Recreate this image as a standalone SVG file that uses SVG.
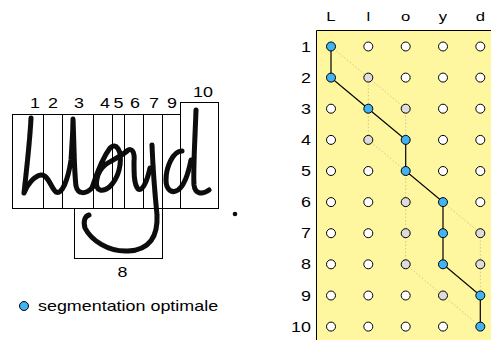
<svg xmlns="http://www.w3.org/2000/svg" width="491" height="340" viewBox="0 0 491 340">
  <style>
    .t { font-family: "Liberation Sans", Arial, sans-serif; font-size: 14px; fill: #000; }
    .c { font-size: 13px; }
    .m { text-anchor: middle; }
    .e { text-anchor: end; }
    .box { fill: none; stroke: #000; stroke-width: 1; }
    .ink { fill: none; stroke: #0a0a0a; stroke-width: 5; stroke-linecap: round; stroke-linejoin: round; }
    .n { stroke: #000; stroke-width: 1; }
    .b { fill: #40b3f5; }
    .g { fill: #dcdcdc; }
    .w { fill: #fff; }
    .path { fill: none; stroke: #000; stroke-width: 1.2; }
    .alt { fill: none; stroke: #cfc68c; stroke-width: 1; stroke-dasharray: 1.5 2; }
  </style>
  <defs>
    <filter id="soft" x="-10%" y="-10%" width="120%" height="120%">
      <feGaussianBlur stdDeviation="0.6"/>
    </filter>
  </defs>

  <rect width="491" height="340" fill="#fff"/>

  <!-- handwritten word, segmented into boxes -->
  <g id="handwriting" filter="url(#soft)">
    <path class="ink" d="M31,118 C30,140 27,166 24,193 C27,185 34,176 41,175 C48,174 51,188 56,192 C62,195 68,180 71,160 C72,145 73,130 73,119 C74,140 74,170 76,186 C78,195 86,194 92,188"/>
    <path class="ink" d="M92,188 C96,176 101,160 110,148 C116,142 122,150 120,165 C118,180 108,192 100,190 C94,188 96,172 105,165 C112,160 120,157 127,151"/>
    <path class="ink" d="M127,151 C132,147 135,152 134,162 C134,174 134,184 138,189 C142,192 147,182 150,168"/>
    <path class="ink" d="M152,145 C153,170 155,195 157,215 C158,236 150,250 128,251 C108,252 91,240 85,228 C83,221 85,216 89,215"/>
    <path class="ink" d="M182,151 C173,151 166,167 166,180 C166,190 172,194 178,190 C184,186 188,175 191,160"/>
    <path class="ink" d="M196,110 C195,140 193,170 194,185 C195,194 202,195 209,190"/>
    <circle cx="235" cy="214" r="2.3" fill="#111"/>
  </g>

  <g id="segments">
    <rect class="box" x="12.5" y="114.5" width="168" height="94"/>
    <path class="box" d="M43.5,114.5V208.5 M62.5,114.5V208.5 M93.5,114.5V208.5 M112.5,114.5V208.5 M124.5,114.5V208.5 M143.5,114.5V208.5 M162.5,114.5V208.5"/>
    <rect class="box" x="180.5" y="102.5" width="38" height="106"/>
    <rect class="box" x="74.5" y="208.5" width="88" height="50"/>
  </g>

  <g id="segment-labels">
    <text class="t m" transform="translate(35,108) scale(1.28,1)">1</text>
    <text class="t m" transform="translate(53,108) scale(1.28,1)">2</text>
    <text class="t m" transform="translate(79,108) scale(1.28,1)">3</text>
    <text class="t m" transform="translate(105,108) scale(1.28,1)">4</text>
    <text class="t m" transform="translate(118.5,108) scale(1.28,1)">5</text>
    <text class="t m" transform="translate(135,108) scale(1.28,1)">6</text>
    <text class="t m" transform="translate(154,108) scale(1.28,1)">7</text>
    <text class="t m" transform="translate(172,108) scale(1.28,1)">9</text>
    <text class="t m" transform="translate(203,97) scale(1.28,1)">10</text>
    <text class="t m" transform="translate(122.5,277) scale(1.28,1)">8</text>
  </g>

  <!-- legend -->
  <g id="legend">
    <circle class="n b" cx="24" cy="306" r="4.5"/>
    <text class="t" transform="translate(38,311) scale(1.28,1)">segmentation optimale</text>
  </g>

  <!-- alignment grid -->
  <g id="grid-frame">
    <rect x="316" y="31" width="175" height="309" fill="#fff79f"/>
    <path d="M316.5,340V30.5H491" fill="none" stroke="#000" stroke-width="1"/>
  </g>

  <g id="column-labels">
    <text class="t c m" transform="translate(331,21) scale(1.28,1)">L</text>
    <text class="t c m" transform="translate(368.3,21) scale(1.28,1)">l</text>
    <text class="t c m" transform="translate(405.7,21) scale(1.28,1)">o</text>
    <text class="t c m" transform="translate(443,21) scale(1.28,1)">y</text>
    <text class="t c m" transform="translate(480.3,21) scale(1.28,1)">d</text>
  </g>

  <g id="row-labels">
    <text class="t e" transform="translate(311,51.5) scale(1.28,1)">1</text>
    <text class="t e" transform="translate(311,82.6) scale(1.28,1)">2</text>
    <text class="t e" transform="translate(311,113.7) scale(1.28,1)">3</text>
    <text class="t e" transform="translate(311,144.9) scale(1.28,1)">4</text>
    <text class="t e" transform="translate(311,176) scale(1.28,1)">5</text>
    <text class="t e" transform="translate(311,207.1) scale(1.28,1)">6</text>
    <text class="t e" transform="translate(311,238.2) scale(1.28,1)">7</text>
    <text class="t e" transform="translate(311,269.3) scale(1.28,1)">8</text>
    <text class="t e" transform="translate(311,300.5) scale(1.28,1)">9</text>
    <text class="t e" transform="translate(311,331.6) scale(1.28,1)">10</text>
  </g>

  <g id="connectors">
    <g id="alternatives">
      <line class="alt" x1="331" y1="46.5" x2="405.7" y2="108.7"/>
      <line class="alt" x1="368.3" y1="77.6" x2="368.3" y2="139.9"/>
      <line class="alt" x1="405.7" y1="108.7" x2="405.7" y2="139.9"/>
      <line class="alt" x1="368.3" y1="139.9" x2="405.7" y2="171"/>
      <line class="alt" x1="405.7" y1="171" x2="405.7" y2="264.3"/>
      <line class="alt" x1="405.7" y1="264.3" x2="480.3" y2="326.6"/>
      <line class="alt" x1="443" y1="202.1" x2="480.3" y2="233.2"/>
      <line class="alt" x1="480.3" y1="233.2" x2="480.3" y2="295.5"/>
    </g>
    <polyline id="best-path" class="path" points="331,46.5 331,77.6 368.3,108.7 405.7,139.9 405.7,171 443,202.1 443,233.2 443,264.3 480.3,295.5 480.3,326.6"/>
  </g>

  <g id="nodes">
    <!-- row 1 -->
    <g id="n1-1"><circle class="n b" cx="331" cy="46.5" r="4.5"/></g>
    <g id="n1-2"><circle class="n w" cx="368.3" cy="46.5" r="4.5"/></g>
    <g id="n1-3"><circle class="n w" cx="405.7" cy="46.5" r="4.5"/></g>
    <g id="n1-4"><circle class="n w" cx="443" cy="46.5" r="4.5"/></g>
    <g id="n1-5"><circle class="n w" cx="480.3" cy="46.5" r="4.5"/></g>
    <!-- row 2 -->
    <g id="n2-1"><circle class="n b" cx="331" cy="77.6" r="4.5"/></g>
    <g id="n2-2"><circle class="n g" cx="368.3" cy="77.6" r="4.5"/></g>
    <g id="n2-3"><circle class="n w" cx="405.7" cy="77.6" r="4.5"/></g>
    <g id="n2-4"><circle class="n w" cx="443" cy="77.6" r="4.5"/></g>
    <g id="n2-5"><circle class="n w" cx="480.3" cy="77.6" r="4.5"/></g>
    <!-- row 3 -->
    <g id="n3-1"><circle class="n w" cx="331" cy="108.7" r="4.5"/></g>
    <g id="n3-2"><circle class="n b" cx="368.3" cy="108.7" r="4.5"/></g>
    <g id="n3-3"><circle class="n g" cx="405.7" cy="108.7" r="4.5"/></g>
    <g id="n3-4"><circle class="n w" cx="443" cy="108.7" r="4.5"/></g>
    <g id="n3-5"><circle class="n w" cx="480.3" cy="108.7" r="4.5"/></g>
    <!-- row 4 -->
    <g id="n4-1"><circle class="n w" cx="331" cy="139.9" r="4.5"/></g>
    <g id="n4-2"><circle class="n g" cx="368.3" cy="139.9" r="4.5"/></g>
    <g id="n4-3"><circle class="n b" cx="405.7" cy="139.9" r="4.5"/></g>
    <g id="n4-4"><circle class="n w" cx="443" cy="139.9" r="4.5"/></g>
    <g id="n4-5"><circle class="n w" cx="480.3" cy="139.9" r="4.5"/></g>
    <!-- row 5 -->
    <g id="n5-1"><circle class="n w" cx="331" cy="171" r="4.5"/></g>
    <g id="n5-2"><circle class="n w" cx="368.3" cy="171" r="4.5"/></g>
    <g id="n5-3"><circle class="n b" cx="405.7" cy="171" r="4.5"/></g>
    <g id="n5-4"><circle class="n w" cx="443" cy="171" r="4.5"/></g>
    <g id="n5-5"><circle class="n w" cx="480.3" cy="171" r="4.5"/></g>
    <!-- row 6 -->
    <g id="n6-1"><circle class="n w" cx="331" cy="202.1" r="4.5"/></g>
    <g id="n6-2"><circle class="n w" cx="368.3" cy="202.1" r="4.5"/></g>
    <g id="n6-3"><circle class="n g" cx="405.7" cy="202.1" r="4.5"/></g>
    <g id="n6-4"><circle class="n b" cx="443" cy="202.1" r="4.5"/></g>
    <g id="n6-5"><circle class="n w" cx="480.3" cy="202.1" r="4.5"/></g>
    <!-- row 7 -->
    <g id="n7-1"><circle class="n w" cx="331" cy="233.2" r="4.5"/></g>
    <g id="n7-2"><circle class="n w" cx="368.3" cy="233.2" r="4.5"/></g>
    <g id="n7-3"><circle class="n g" cx="405.7" cy="233.2" r="4.5"/></g>
    <g id="n7-4"><circle class="n b" cx="443" cy="233.2" r="4.5"/></g>
    <g id="n7-5"><circle class="n g" cx="480.3" cy="233.2" r="4.5"/></g>
    <!-- row 8 -->
    <g id="n8-1"><circle class="n w" cx="331" cy="264.3" r="4.5"/></g>
    <g id="n8-2"><circle class="n w" cx="368.3" cy="264.3" r="4.5"/></g>
    <g id="n8-3"><circle class="n g" cx="405.7" cy="264.3" r="4.5"/></g>
    <g id="n8-4"><circle class="n b" cx="443" cy="264.3" r="4.5"/></g>
    <g id="n8-5"><circle class="n g" cx="480.3" cy="264.3" r="4.5"/></g>
    <!-- row 9 -->
    <g id="n9-1"><circle class="n w" cx="331" cy="295.5" r="4.5"/></g>
    <g id="n9-2"><circle class="n w" cx="368.3" cy="295.5" r="4.5"/></g>
    <g id="n9-3"><circle class="n w" cx="405.7" cy="295.5" r="4.5"/></g>
    <g id="n9-4"><circle class="n g" cx="443" cy="295.5" r="4.5"/></g>
    <g id="n9-5"><circle class="n b" cx="480.3" cy="295.5" r="4.5"/></g>
    <!-- row 10 -->
    <g id="n10-1"><circle class="n w" cx="331" cy="326.6" r="4.5"/></g>
    <g id="n10-2"><circle class="n w" cx="368.3" cy="326.6" r="4.5"/></g>
    <g id="n10-3"><circle class="n w" cx="405.7" cy="326.6" r="4.5"/></g>
    <g id="n10-4"><circle class="n w" cx="443" cy="326.6" r="4.5"/></g>
    <g id="n10-5"><circle class="n b" cx="480.3" cy="326.6" r="4.5"/></g>
  </g>
</svg>
